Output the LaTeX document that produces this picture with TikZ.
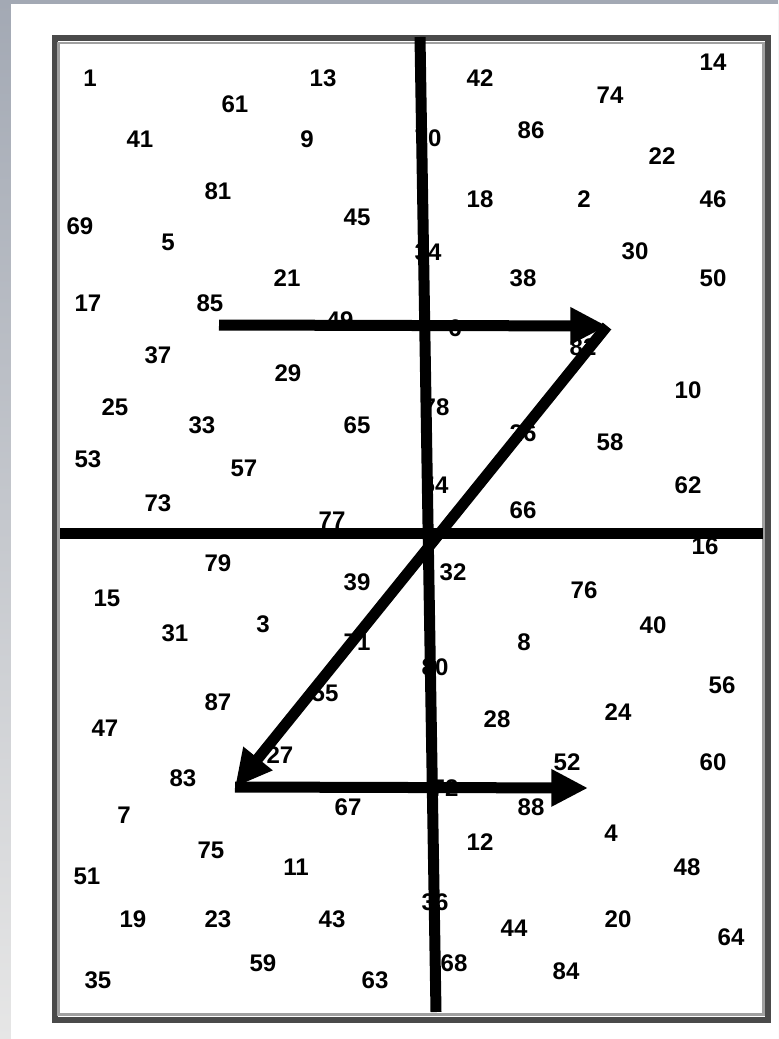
\documentclass[tikz,border=0pt]{standalone}
\usepackage{fontspec}
\setmainfont{Liberation Sans}
\usepackage{xcolor}
\usetikzlibrary{arrows.meta}

\definecolor{framedark}{HTML}{4A4A4A}
\definecolor{framelight}{HTML}{A0A0A0}
\definecolor{edgetop}{HTML}{A3A9B4}
\definecolor{edgebottom}{HTML}{E6E6E6}

\begin{document}
\begin{tikzpicture}[
    x=0.03cm, y=-0.03cm,
    num/.style={font=\bfseries\fontsize{20.5}{24}\selectfont, inner sep=0pt},
    bar/.style={line width=0.33cm},
    zarrow/.style={bar, -{Triangle[length=1.1cm, width=1.05cm]}}
]
\useasboundingbox (0,0) rectangle (778,1039);

% page with grey edge
\shade[top color=edgetop, bottom color=edgebottom] (0,0) rectangle (778,1039);
\fill[white] (11,4) rectangle (778,1039);

% frame
\draw[framedark, line width=0.18cm] (54.5,38) rectangle (767.5,1019.5);
\draw[framelight, line width=0.075cm] (58.7,42.8) rectangle (763.5,1014.5);

% numbers
\foreach \n/\x/\y in {
    1/90/78, 13/323/78, 61/235/104, 41/140/139, 9/307/139, 81/218/191,
    45/357/217, 69/80/226, 5/168/242, 21/287/278,
    42/480/78, 74/610/95, 14/713/62, 70/428/138, 86/531/130, 22/662/156,
    18/480/199, 2/584/199, 46/713/199, 34/428/252, 30/635/251, 38/523/278,
    50/713/278,
    17/88/303, 85/210/303, 49/340/320, 37/158/355, 29/288/373, 25/115/407,
    33/202/425, 65/357/425, 53/88/459, 57/244/468, 73/158/503, 77/332/520,
    6/455/328, 82/583/347, 10/688/390, 78/436/407, 26/523/433, 58/610/442,
    54/435/485, 62/688/485, 66/523/510, 16/705/546,
    79/218/563, 39/357/582, 15/107/598, 31/175/633, 3/263/624, 71/357/642,
    87/218/702, 55/325/693, 47/105/728, 27/280/755, 83/183/778,
    32/453/572, 76/584/590, 40/653/625, 8/524/642, 80/435/667, 56/722/685,
    24/618/712, 28/497/719, 52/567/762, 60/713/762, 72/445/788,
    7/124/815, 67/348/807, 75/211/850, 11/296/867, 51/87/876, 19/133/919,
    23/218/919, 43/332/919, 59/263/963, 35/98/980, 63/375/980,
    88/531/807, 12/480/842, 4/611/833, 48/687/867, 36/435/902, 44/514/928,
    20/618/919, 64/731/937, 68/454/963, 84/566/971}
    \node[num] (n\n) at (\x,\y) {\n};

% axes and Z path
\coordinate (vtop) at (420,37);
\coordinate (vbot) at (436,1012);
\coordinate (hleft) at (60,533);
\coordinate (hright) at (763,533);
\coordinate (zstart) at (219,325);
\coordinate (ztop) at (607,326);
\coordinate (zbot) at (235,787);
\coordinate (zend) at (588,788);

\draw[bar] (vtop) -- (vbot);
\draw[bar] (hleft) -- (hright);
\draw[zarrow] (zstart) -- (ztop);
\draw[zarrow] (ztop) -- (zbot);
\draw[zarrow] (zbot) -- (zend);

\end{tikzpicture}
\end{document}
